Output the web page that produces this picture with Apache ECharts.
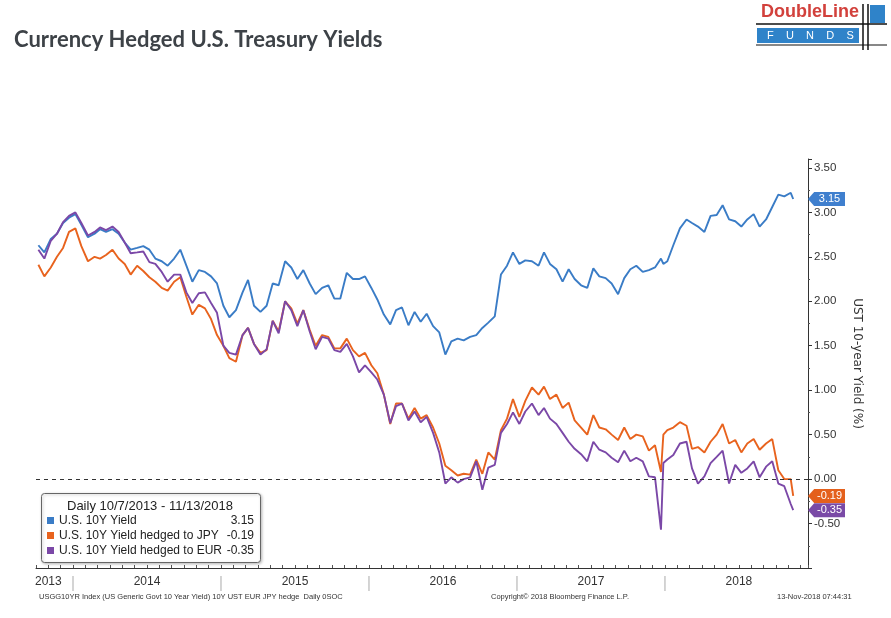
<!DOCTYPE html>
<html><head><meta charset="utf-8">
<script src="https://cdn.jsdelivr.net/npm/echarts@6/dist/echarts.min.js"></script>
<style>html,body{margin:0;padding:0;background:#fff}#c{width:891px;height:618px}</style>
</head><body><div id="c"></div>
<script>
const dates = [
'2013-10-07','2013-10-22','2013-11-07','2013-11-22','2013-12-07','2013-12-22',
'2014-01-07','2014-01-22','2014-02-07','2014-02-22','2014-03-07','2014-03-22','2014-04-07','2014-04-22','2014-05-07','2014-05-22','2014-06-07','2014-06-22',
'2014-07-07','2014-07-22','2014-08-07','2014-08-22','2014-09-07','2014-09-22','2014-10-07','2014-10-22','2014-11-07','2014-11-22','2014-12-07','2014-12-22',
'2015-01-07','2015-01-22','2015-02-07','2015-02-22','2015-03-07','2015-03-22','2015-04-07','2015-04-22','2015-05-07','2015-05-22','2015-06-07','2015-06-22',
'2015-07-07','2015-07-22','2015-08-07','2015-08-22','2015-09-07','2015-09-22','2015-10-07','2015-10-22','2015-11-07','2015-11-22','2015-12-07','2015-12-22',
'2016-01-07','2016-01-22','2016-02-07','2016-02-22','2016-03-07','2016-03-22','2016-04-07','2016-04-22','2016-05-07','2016-05-22','2016-06-07','2016-06-22',
'2016-07-07','2016-07-22','2016-08-07','2016-08-22','2016-09-07','2016-09-22','2016-10-07','2016-10-22','2016-11-07','2016-11-22','2016-12-07','2016-12-22',
'2017-01-07','2017-01-22','2017-02-07','2017-02-22','2017-03-07','2017-03-22','2017-04-07','2017-04-22','2017-05-07','2017-05-22','2017-06-07','2017-06-22',
'2017-07-07','2017-07-22','2017-08-07','2017-08-22','2017-09-07','2017-09-22','2017-10-07','2017-10-22','2017-11-07','2017-11-22','2017-12-07','2017-12-22','2017-12-28',
'2018-01-07','2018-01-22','2018-02-07','2018-02-22','2018-03-07','2018-03-22','2018-04-07','2018-04-22','2018-05-07','2018-05-22','2018-06-07','2018-06-22',
'2018-07-07','2018-07-22','2018-08-07','2018-08-22','2018-09-07','2018-09-22','2018-10-07','2018-10-22','2018-11-07','2018-11-13'
];
const ust = [
2.63,2.55,2.70,2.76,2.88,2.94,
2.98,2.86,2.72,2.76,2.81,2.78,2.81,2.76,2.66,2.58,2.60,2.62,
2.58,2.48,2.45,2.40,2.48,2.58,2.40,2.22,2.35,2.33,2.28,2.20,
1.95,1.82,1.90,2.10,2.24,1.95,1.88,1.95,2.20,2.18,2.45,2.38,
2.25,2.35,2.20,2.08,2.15,2.18,2.03,2.03,2.32,2.25,2.25,2.28,
2.15,2.02,1.85,1.74,1.90,1.93,1.73,1.88,1.77,1.86,1.72,1.65,
1.40,1.55,1.58,1.56,1.60,1.62,1.70,1.76,1.83,2.30,2.40,2.55,
2.42,2.46,2.45,2.40,2.55,2.42,2.36,2.22,2.36,2.25,2.18,2.15,
2.37,2.28,2.26,2.20,2.08,2.26,2.36,2.40,2.33,2.35,2.38,2.48,2.42,
2.45,2.63,2.82,2.92,2.88,2.84,2.78,2.96,2.97,3.08,2.92,2.90,
2.84,2.92,2.98,2.84,2.92,3.06,3.20,3.18,3.22,3.15
];
const jpy = [
2.41,2.28,2.38,2.50,2.60,2.78,
2.82,2.62,2.45,2.50,2.48,2.52,2.58,2.48,2.42,2.30,2.40,2.34,
2.27,2.22,2.15,2.12,2.22,2.27,2.05,1.85,1.96,1.92,1.80,1.62,
1.50,1.36,1.32,1.62,1.70,1.52,1.42,1.45,1.78,1.66,2.00,1.92,
1.75,1.90,1.68,1.50,1.62,1.60,1.47,1.47,1.58,1.45,1.38,1.42,
1.28,1.19,0.95,0.62,0.85,0.85,0.68,0.80,0.68,0.72,0.58,0.40,
0.15,0.10,0.04,0.06,0.05,0.22,0.06,0.30,0.22,0.55,0.68,0.90,
0.70,0.88,1.03,0.95,1.04,0.90,0.95,0.80,0.86,0.66,0.58,0.50,
0.72,0.58,0.56,0.50,0.44,0.58,0.45,0.50,0.48,0.32,0.38,0.08,0.50,
0.55,0.58,0.64,0.60,0.34,0.36,0.30,0.42,0.50,0.62,0.40,0.44,
0.30,0.40,0.45,0.33,0.40,0.45,0.10,0.00,0.00,-0.19
];
const eur = [
2.58,2.48,2.68,2.76,2.89,2.96,
3.00,2.88,2.74,2.78,2.83,2.80,2.84,2.78,2.66,2.54,2.55,2.56,
2.44,2.42,2.33,2.22,2.30,2.30,2.10,1.98,2.09,2.10,1.98,1.87,
1.50,1.42,1.40,1.62,1.70,1.52,1.40,1.46,1.78,1.64,2.00,1.90,
1.72,1.90,1.66,1.46,1.60,1.58,1.45,1.43,1.52,1.38,1.20,1.28,
1.20,1.12,0.95,0.63,0.82,0.85,0.66,0.76,0.64,0.70,0.52,0.30,
-0.05,0.02,-0.04,0.00,0.02,0.20,-0.12,0.13,0.16,0.52,0.62,0.75,
0.62,0.76,0.85,0.72,0.80,0.68,0.62,0.52,0.42,0.34,0.28,0.20,
0.42,0.33,0.30,0.24,0.19,0.32,0.20,0.24,0.20,0.03,0.02,-0.57,0.18,
0.22,0.27,0.40,0.42,0.12,-0.05,0.03,0.18,0.25,0.32,-0.05,0.16,
0.07,0.12,0.20,0.02,0.14,0.20,-0.05,-0.08,-0.28,-0.35
];
const seriesNames = ['U.S. 10Y Yield','U.S. 10Y Yield hedged to JPY','U.S. 10Y Yield hedged to EUR'];
const lastValues = ['3.15','-0.19','-0.35'];
const yearLabels = ['2013','2014','2015','2016','2017','2018'];
const colors = ['#3a7cc6','#e8631e','#7b48a7'];
const tagColors = ['#3f7fce','#e4601c','#7a4aa6'];

function toM(s){const p=s.split('-').map(Number);const dim=new Date(p[0],p[1],0).getDate();return (p[0]-2013)*12+(p[1]-1)+(p[2]-1)/dim;}
const X_MIN = 9, X_MAX = 71.6;
const all = [ust,jpy,eur];
const FONT = 'Liberation Sans';

const chart = echarts.init(document.getElementById('c'), null, {renderer:'canvas'});
const tagPath = 'path://M0,6.5 L6,0 L36,0 L36,13 L6,13 Z';

const series = all.map((vals,i)=>({
  name: seriesNames[i], type:'line', showSymbol:false, clip:false,
  data: dates.map((d,j)=>[toM(d), vals[j]]),
  lineStyle:{color:colors[i], width:1.9}, itemStyle:{color:colors[i]},
  z: 2+i, animation:false,
  markPoint:{
    symbol: tagPath, symbolSize:[37,14], symbolOffset:['50%',0], symbolKeepAspect:false,
    itemStyle:{color:tagColors[i]},
    label:{show:true, position:'inside', offset:[3,0], color:'#fff', fontSize:11, fontFamily:FONT, formatter: ()=>lastValues[i]},
    data:[{coord:[X_MAX, parseFloat(lastValues[i])], value: lastValues[i]}],
    animation:false
  },
  markLine: i===0 ? {symbol:'none', silent:true, label:{show:false},
    lineStyle:{type:[4,4], color:'#333', width:1}, data:[{yAxis:0}], animation:false} : undefined
}));

chart.setOption({
  animation:false,
  backgroundColor:'#fff',
  title:{text:'Currency Hedged U.S. Treasury Yields', left:9, top:24,
    textStyle:{fontFamily:'Lato', fontWeight:'bold', fontSize:22, color:'#3d4247'}},
  grid:{left:36, right:83, top:159, bottom:50},
  xAxis:{type:'value', min:X_MIN, max:X_MAX, interval:1,
    axisLine:{onZero:false, lineStyle:{color:'#333', width:1}},
    axisTick:{inside:true, length:3, lineStyle:{color:'#555'}},
    splitLine:{show:false},
    axisLabel:{margin:8, color:'#333', fontSize:12, fontFamily:FONT,
      formatter:function(v){const r=Math.round(v); if(Math.abs(v-r)>1e-6) return '';
        if(r===10) return yearLabels[0];
        if(r%12===0) return '{sep| }';
        if(r%12===6) return yearLabels[(r-6)/12];
        return '';},
      rich:{sep:{width:1.5, height:15, backgroundColor:'#c6c6c6'}}}
  },
  yAxis:{type:'value', position:'right', min:-1, max:3.6, interval:0.5,
    name:'UST 10-year Yield (%)', nameLocation:'middle', nameRotate:-90, nameGap:42,
    nameTextStyle:{color:'#333', fontSize:12, fontFamily:'DejaVu Sans'},
    axisLine:{show:true, lineStyle:{color:'#333', width:1}},
    axisTick:{show:true, length:4, lineStyle:{color:'#333'}},
    minorTick:{show:true, splitNumber:2, length:2, lineStyle:{color:'#555'}},
    splitLine:{show:false},
    axisLabel:{margin:6, color:'#333', fontSize:11.5, fontFamily:FONT,
      formatter:function(v){ if(v<-0.99||v>3.55) return ''; return v.toFixed(2);} }
  },
  legend:{data:seriesNames, orient:'vertical', left:42, top:508, itemWidth:7, itemHeight:7, itemGap:0,
    icon:'rect', selectedMode:false, z:10,
    textStyle:{fontFamily:FONT, fontSize:12, color:'#222', lineHeight:15,
      rich:{n:{width:164, fontFamily:FONT, fontSize:12, color:'#222', lineHeight:15},
            v:{width:31, align:'right', fontFamily:FONT, fontSize:12, color:'#222', lineHeight:15}}},
    formatter:function(name){const i=seriesNames.indexOf(name); return '{n|'+name+'}{v|'+lastValues[i]+'}';}
  },
  graphic:[
    {type:'rect', left:41, top:493, z:5, shape:{width:219, height:69, r:3},
      style:{fill:'#fff', stroke:'#666', lineWidth:1, shadowBlur:3, shadowColor:'rgba(0,0,0,0.25)', shadowOffsetX:1, shadowOffsetY:1}},
    {type:'text', x:150, y:500, z:6, style:{text:'Daily 10/7/2013 - 11/13/2018', font:'13px "Liberation Sans"', fill:'#222', textAlign:'center'}},
    {type:'text', left:39, top:593, style:{text:'USGG10YR Index (US Generic Govt 10 Year Yield) 10Y UST EUR JPY hedge  Daily 0SOC', font:'7.5px "Liberation Sans"', fill:'#333'}},
    {type:'text', left:491, top:593, style:{text:'Copyright\u00A9 2018 Bloomberg Finance L.P.', font:'7.5px "Liberation Sans"', fill:'#333'}},
    {type:'text', left:777, top:593, style:{text:'13-Nov-2018 07:44:31', font:'7.5px "Liberation Sans"', fill:'#333'}},
    {type:'text', left:761, top:3, style:{text:'DoubleLine', font:'bold 18px "Liberation Sans"', fill:'#d2413c'}},
    {type:'rect', left:757, top:28, shape:{width:102, height:15}, style:{fill:'#2f83c9'}},
    {type:'text', left:767, top:30, style:{text:'F    U    N    D    S', font:'11px "Liberation Sans"', fill:'#fff'}},
    {type:'rect', left:870, top:5, shape:{width:15, height:18}, style:{fill:'#2f83c9'}},
    {type:'line', shape:{x1:756, y1:24, x2:887, y2:24}, style:{stroke:'#111', lineWidth:1.5}},
    {type:'line', shape:{x1:756, y1:45, x2:887, y2:45}, style:{stroke:'#111', lineWidth:1}},
    {type:'line', shape:{x1:863, y1:4, x2:863, y2:50}, style:{stroke:'#111', lineWidth:1.5}},
    {type:'line', shape:{x1:868, y1:4, x2:868, y2:50}, style:{stroke:'#111', lineWidth:1.5}}
  ],
  series: series
});
</script></body></html>
